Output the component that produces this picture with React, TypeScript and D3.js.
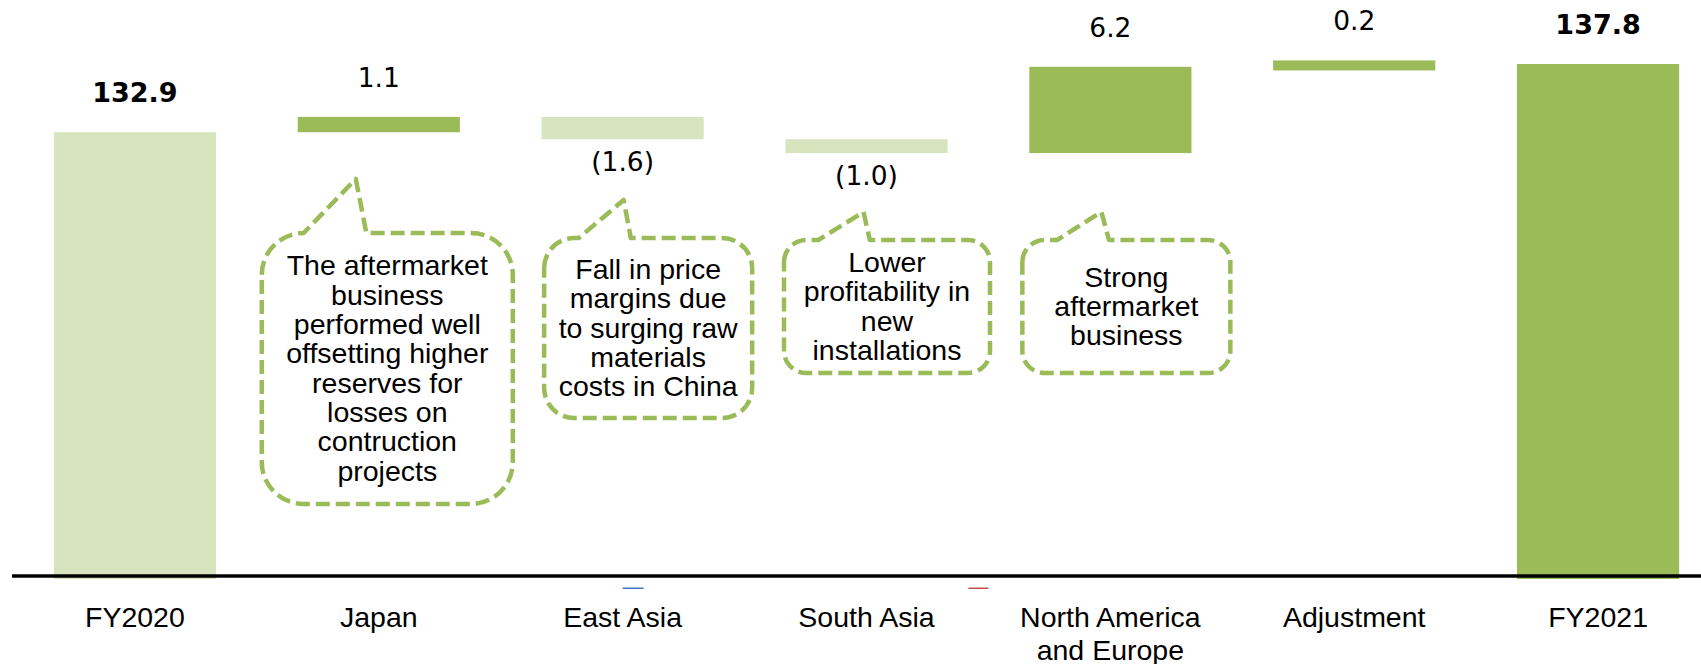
import React from "react";
import * as d3 from "d3";

// waterfall: FY2020 -> FY2021 by region
const categories = [
  "FY2020",
  "Japan",
  "East Asia",
  "South Asia",
  "North America\nand Europe",
  "Adjustment",
  "FY2021",
];
const kinds = ["total", "delta", "delta", "delta", "delta", "delta", "total"];
const values = [132.9, 1.1, -1.6, -1.0, 6.2, 0.2, 137.8];

const notes = [
  "",
  "The aftermarket\nbusiness\nperformed well\noffsetting higher\nreserves for\nlosses on\ncontruction\nprojects",
  "Fall in price\nmargins due\nto surging raw\nmaterials\ncosts in China",
  "Lower\nprofitability in\nnew\ninstallations",
  "Strong\naftermarket\nbusiness",
  "",
  "",
];

const DARK = "#9BBB59";
const LIGHT = "#D7E4BD";
const NUM_FONT = "'DejaVu Sans', Verdana, sans-serif";
const TXT_FONT = "'Liberation Sans', Arial, sans-serif";

// callout boxes, placed relative to the bar centre
const calloutLayout: Record<number, { dx: number; top: number; w: number; h: number; tipDx: number; tipY: number }> = {
  1: { dx: 8.5, top: 233, w: 251, h: 271, tipDx: -23, tipY: 179 },
  2: { dx: 25.5, top: 238, w: 208, h: 180, tipDx: 1, tipY: 200 },
  3: { dx: 20.5, top: 240, w: 206, h: 133, tipDx: -3, tipY: 212 },
  4: { dx: 16, top: 240, w: 208, h: 133, tipDx: -9, tipY: 212 },
};

function calloutPath(l: number, t: number, w: number, h: number, tx: number, ty: number) {
  const r = Math.min(w, h) / 6;
  const b = t + h;
  const rr = l + w;
  return [
    `M${l},${t + r}`,
    `A${r},${r} 0 0 1 ${l + r},${t}`,
    `L${l + w / 6},${t}`,
    `L${tx},${ty}`,
    `L${l + (5 * w) / 12},${t}`,
    `L${rr - r},${t}`,
    `A${r},${r} 0 0 1 ${rr},${t + r}`,
    `L${rr},${b - r}`,
    `A${r},${r} 0 0 1 ${rr - r},${b}`,
    `L${l + r},${b}`,
    `A${r},${r} 0 0 1 ${l},${b - r}`,
    "Z",
  ].join(" ");
}

export default function App() {
  const width = 1701;
  const height = 664;

  const x = d3
    .scaleBand<string>()
    .domain(categories)
    .range([13, 1720])
    .paddingInner(0.335)
    .paddingOuter(0.1675);
  const y = d3.scaleLinear().domain([100.8, 142.4]).range([579, 0]);
  const floor = y.domain()[0];
  const fmt = d3.format(".1f");

  // build the waterfall steps
  let running = 0;
  const bars = categories.map((c, i) => {
    let lo: number, hi: number;
    if (kinds[i] === "total") {
      lo = floor;
      hi = values[i];
      running = values[i];
    } else {
      lo = Math.min(running, running + values[i]);
      hi = Math.max(running, running + values[i]);
      running += values[i];
    }
    let top = y(hi);
    let bottom = y(lo);
    if (bottom - top < 10) {
      const grow = (10 - (bottom - top)) / 2;
      top -= grow;
      bottom += grow;
    }
    const color =
      kinds[i] === "total" ? (i === 0 ? LIGHT : DARK) : values[i] < 0 ? LIGHT : DARK;
    return { c, i, top, bottom, color, cx: (x(c) ?? 0) + x.bandwidth() / 2 };
  });

  const gapStart = (x(categories[4]) ?? 0) - (x.step() - x.bandwidth()) / 2;

  return (
    <svg
      width={width}
      height={height}
      style={{ position: "absolute", left: 0, top: 0, background: "#fff" }}
    >
      {bars.map((b) => (
        <rect
          key={b.c}
          x={x(b.c)}
          y={b.top}
          width={x.bandwidth()}
          height={b.bottom - b.top}
          fill={b.color}
        />
      ))}

      <line x1={12} x2={width} y1={576} y2={576} stroke="#000" strokeWidth={3.4} />

      {/* stray marks under the axis */}
      <rect x={bars[2].cx} y={587.5} width={21} height={1.5} fill="#4472C4" />
      <rect x={gapStart - 20} y={587.5} width={20} height={1.5} fill="#C0504D" />

      {/* value labels */}
      {bars.map((b) => {
        const v = values[b.i];
        const isTotal = kinds[b.i] === "total";
        const neg = v < 0;
        return (
          <text
            key={"v" + b.c}
            x={b.cx}
            y={neg ? b.bottom + 32 : b.top - 30}
            textAnchor="middle"
            fontFamily={NUM_FONT}
            fontSize={isTotal ? 27 : 26.5}
            fontWeight={isTotal ? "bold" : "normal"}
            fill="#000"
          >
            {neg ? `(${fmt(-v)})` : fmt(v)}
          </text>
        );
      })}

      {/* category labels */}
      {bars.map((b) =>
        b.c.split("\n").map((line, k) => (
          <text
            key={"c" + b.c + k}
            x={b.cx}
            y={627 + k * 33}
            textAnchor="middle"
            fontFamily={TXT_FONT}
            fontSize={28.5}
            fill="#000"
          >
            {line}
          </text>
        ))
      )}

      {/* callouts */}
      {bars.map((b) => {
        const lay = calloutLayout[b.i];
        if (!lay || !notes[b.i]) return null;
        const left = b.cx + lay.dx - lay.w / 2;
        const lines = notes[b.i].split("\n");
        const lh = 29.3;
        const midY = lay.top + lay.h / 2;
        const firstBase = midY - ((lines.length - 1) * lh) / 2 + 9.5;
        return (
          <g key={"n" + b.c}>
            <path
              d={calloutPath(left, lay.top, lay.w, lay.h, b.cx + lay.tipDx, lay.tipY)}
              fill="#fff"
              stroke={DARK}
              strokeWidth={4.5}
              strokeDasharray="14 6"
              strokeLinejoin="round"
            />
            {lines.map((ln, k) => (
              <text
                key={k}
                x={left + lay.w / 2}
                y={firstBase + k * lh}
                textAnchor="middle"
                fontFamily={TXT_FONT}
                fontSize={28.5}
                fill="#000"
              >
                {ln}
              </text>
            ))}
          </g>
        );
      })}
    </svg>
  );
}
